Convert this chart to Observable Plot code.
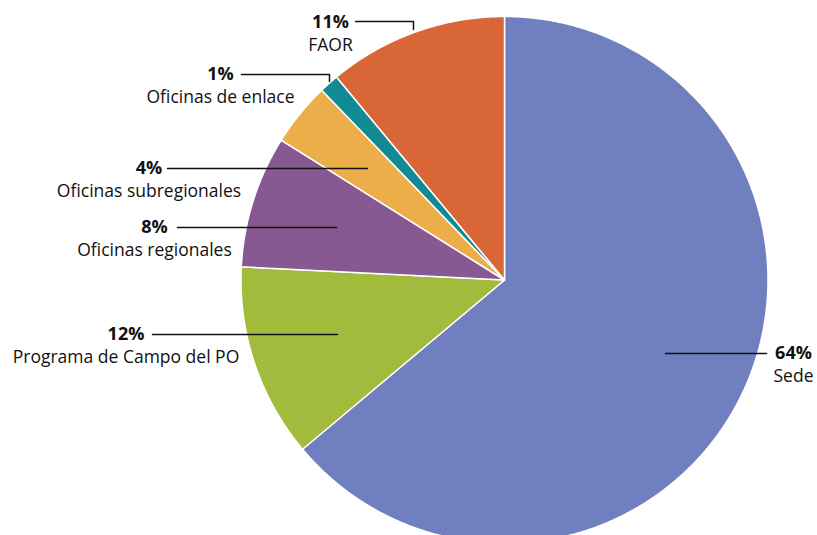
<!DOCTYPE html>
<html><head><meta charset="utf-8">
<script src="https://cdn.jsdelivr.net/npm/d3@7"></script>
<script src="https://cdn.jsdelivr.net/npm/@observablehq/plot@0.6"></script>
<style>
html,body{margin:0;padding:0;background:#fff;overflow:hidden}
#chart svg{display:block}
</style></head><body><div id="chart"></div>
<script>
// ---- data ----
const categories = ["Sede", "Programa de Campo del PO", "Oficinas regionales", "Oficinas subregionales", "Oficinas de enlace", "FAOR"];
const values = [63.9, 11.9, 8.1, 3.9, 1.2, 11.0];
const percentLabels = ["64%", "12%", "8%", "4%", "1%", "11%"];
const colors = ["#6f7fbf", "#a3bb3c", "#875891", "#ecae48", "#128a94", "#d86636"];

// ---- layout (annotation placement, in pixels of the 817x535 frame) ----
const W = 817, H = 535, CX = 504.5, CY = 280, R = 263.5;
const labelPos = [ // [centerX, percentMidY, nameMidY]
  [793, 353, 376],
  [125.5, 334, 357],
  [154, 227, 250],
  [148.5, 168, 191],
  [220, 74, 97],
  [330, 22, 45]
];
const leaderPts = [
  [[665, 353], [766, 353]],
  [[152, 334], [337, 334]],
  [[177, 227], [336, 227]],
  [[167, 168], [367, 168]],
  [[241, 74], [329, 74], [329, 81]],
  [[355, 21], [413, 21], [413, 29]]
];
const ux = px => (px - CX) / R;
const uy = py => (CY - py) / R;

// ---- geometry from data ----
const arcs = d3.pie().sort(null).value(d => d)(values);
const slices = arcs.flatMap((p, i) => {
  const n = Math.max(2, Math.ceil((p.endAngle - p.startAngle) / 0.004));
  return d3.range(n + 1).map(k => {
    const a = p.startAngle + (p.endAngle - p.startAngle) * k / n;
    return {cat: categories[i], x: Math.sin(a), y: Math.cos(a)};
  });
});
const leaders = leaderPts.flatMap((pts, i) => pts.map(([x, y]) => ({cat: categories[i], x: ux(x), y: uy(y)})));
const labels = categories.map((c, i) => ({
  name: c, pct: percentLabels[i],
  x: ux(labelPos[i][0]), yp: uy(labelPos[i][1]), yn: uy(labelPos[i][2])
}));

const font = "'Open Sans', sans-serif";
const chart = Plot.plot({
  width: W, height: H, margin: 0,
  style: {background: "#fff", fontFamily: font},
  x: {domain: [ux(0), ux(W)], axis: null},
  y: {domain: [uy(H), uy(0)], axis: null},
  color: {domain: categories, range: colors},
  marks: [
    Plot.area(slices, {x1: "x", y1: "y", x2: 0, y2: 0, z: "cat", fill: "cat", stroke: "white", strokeWidth: 1.5, strokeLinejoin: "round"}),
    Plot.line(leaders, {x: "x", y: "y", z: "cat", stroke: "#111", strokeWidth: 1.5}),
    Plot.text(labels, {x: "x", y: "yp", text: "pct", fontWeight: "bold", fontSize: 18, fill: "#111", textAnchor: "middle", lineAnchor: "middle"}),
    Plot.text(labels, {x: "x", y: "yn", text: "name", fontSize: 17.5, fill: "#111", textAnchor: "middle", lineAnchor: "middle"})
  ]
});
document.getElementById("chart").append(chart);
</script>
</body></html>
